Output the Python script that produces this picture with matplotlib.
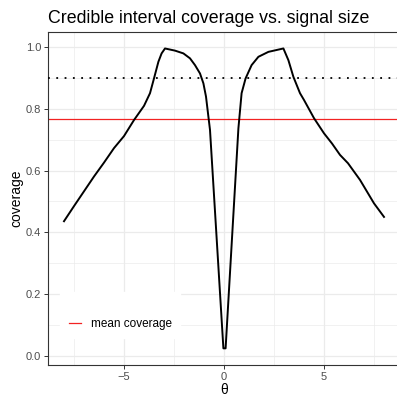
import matplotlib.pyplot as plt
from matplotlib.ticker import MultipleLocator

plt.rcParams['font.family'] = ['Liberation Sans', 'DejaVu Sans']

# coverage
theta = [-8.0, -7.5, -7.0, -6.5, -6.0, -5.5, -5.0, -4.5, -4.0, -3.7, -3.5, -3.28,
         -3.12, -2.95, -2.45, -2.03, -1.7, -1.45, -1.2, -1.03, -0.9, -0.78, -0.7,
         -0.03, 0.08,
         0.72, 0.88, 1.08, 1.38, 1.72, 2.22, 2.97, 3.22, 3.47, 3.8,
         4.0, 4.5, 5.0, 5.4, 5.8, 6.2, 6.8, 7.5, 8.0]
coverage = [0.436, 0.485, 0.533, 0.581, 0.626, 0.673, 0.712, 0.764, 0.810, 0.851, 0.899, 0.953,
            0.980, 0.996, 0.989, 0.980, 0.964, 0.942, 0.915, 0.883, 0.840, 0.775, 0.732,
            0.024, 0.024,
            0.737, 0.851, 0.899, 0.942, 0.969, 0.985, 0.996, 0.958, 0.904, 0.851,
            0.829, 0.770, 0.721, 0.688, 0.651, 0.624, 0.570, 0.494, 0.450]
mean_cov = 0.767
nominal = 0.9

W, H = 397, 399
fig = plt.figure(figsize=(W / 100, H / 100), dpi=100)
# panel in pixels: left 48, right 400, top 31.5, bottom 365
ax = fig.add_axes([48 / W, (H - 365) / H, (400 - 48) / W, (365 - 31.5) / H])

ax.plot(theta, coverage, color='black', lw=1.4, solid_joinstyle='round', zorder=3)
ax.axhline(nominal, color='black', lw=1.3, linestyle=(0, (1, 3.6)), zorder=3)
ax.axhline(mean_cov, color='#F22222', lw=0.9, label='mean coverage', zorder=2.5)

ax.set_xlim(-8.8, 8.8)
ax.set_ylim(-0.030, 1.051)
ax.xaxis.set_major_locator(MultipleLocator(5))
ax.xaxis.set_minor_locator(MultipleLocator(2.5))
ax.yaxis.set_major_locator(MultipleLocator(0.2))
ax.yaxis.set_minor_locator(MultipleLocator(0.1))
ax.yaxis.set_major_formatter(plt.FuncFormatter(lambda v, p: f'{v:.1f}'))
ax.xaxis.set_major_formatter(plt.FuncFormatter(lambda v, p: f'{v:.0f}'.replace('-', '\u2212')))

ax.grid(which='major', color='#EBEBEB', lw=0.9)
ax.grid(which='minor', color='#EBEBEB', lw=0.5)
ax.set_axisbelow(True)
ax.tick_params(which='major', length=3, width=0.7, color='#333333',
               labelcolor='#4D4D4D', labelsize=8, pad=2)
ax.tick_params(which='minor', length=0)
for s in ax.spines.values():
    s.set_color('#333333')
    s.set_linewidth(0.8)

ax.set_xlabel('\u03b8', fontsize=10, labelpad=1)
ax.set_ylabel('coverage', fontsize=10, labelpad=2)
ax.set_title('Credible interval coverage vs. signal size', fontsize=12.8,
             loc='left', pad=6)

leg = ax.legend(loc='lower left', bbox_to_anchor=(0.018, 0.062), title=' ',
                fontsize=8.5, title_fontsize=8.5, handlelength=1.1,
                handletextpad=0.8, borderpad=0.7, fancybox=False,
                framealpha=1, edgecolor='white', facecolor='white')

fig.savefig('out.png', dpi=100)
